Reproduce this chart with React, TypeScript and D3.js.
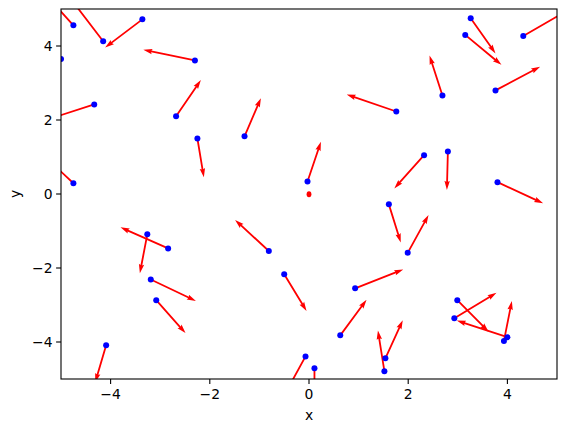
import React from "react";
import * as d3 from "d3";

const xs = [-4.75, -4.15, -3.36, -5.0, -2.3, -4.33, -2.68, -2.25, -1.3, 1.76, 3.26, 3.15, 4.32, 2.69, 3.76, -4.75, -0.03, 2.32, 2.8, 3.8, 1.61, 1.99, -3.26, -2.84, -0.81, -0.5, -3.19, -3.08, 0.93, -4.09, 0.63, -0.07, 0.11, 1.54, 1.52, 2.99, 2.93, 4.0, 3.93];
const ys = [4.56, 4.13, 4.72, 3.65, 3.61, 2.42, 2.1, 1.5, 1.56, 2.23, 4.75, 4.3, 4.27, 2.66, 2.8, 0.29, 0.34, 1.05, 1.15, 0.32, -0.28, -1.59, -1.09, -1.47, -1.54, -2.17, -2.31, -2.87, -2.55, -4.09, -3.82, -4.39, -4.71, -4.44, -4.79, -2.87, -3.36, -3.87, -3.97];
const us = [-0.5, -0.64, -0.75, -0.9, -1.04, -1.0, 0.5, 0.13, 0.33, -1.0, 0.5, 0.73, 0.94, -0.26, 0.9, -0.62, 0.27, -0.6, -0.02, 0.92, 0.24, 0.42, -0.15, -0.96, -0.68, 0.45, 0.91, 0.59, 0.97, -0.22, 0.53, -0.38, 0.0, 0.35, -0.13, 0.63, 0.85, -1.02, 0.16];
const vs = [0.74, 1.12, -0.76, -0.35, 0.29, -0.43, 0.98, -1.05, 1.03, 0.46, -0.95, -0.81, 0.73, 1.08, 0.64, 0.78, 1.07, -0.9, -1.04, -0.57, -1.03, 1.02, -1.05, 0.57, 0.84, -0.99, -0.58, -0.89, 0.51, -1.0, 0.96, -0.93, -1.0, 1.03, 1.1, -0.85, 0.69, 0.45, 1.08];
// near-zero vector drawn as a small blob
const stubX = [0.0];
const stubY = [-0.01];
const ticks = [-4, -2, 0, 2, 4];

const W = 565, H = 432;
const L = 61, R = 557, T = 9, B = 379;

function arrowPath(x0: number, y0: number, x1: number, y1: number, w: number) {
  const dx = x1 - x0, dy = y1 - y0;
  const len = Math.hypot(dx, dy);
  const ca = dx / len, sa = dy / len;
  const pts: [number, number][] = [
    [0, -w / 2], [len - 4.5 * w, -w / 2], [len - 5 * w, -1.5 * w], [len, 0],
    [len - 5 * w, 1.5 * w], [len - 4.5 * w, w / 2], [0, w / 2],
  ];
  return "M" + pts.map(([a, b]) => `${x0 + a * ca - b * sa},${y0 + a * sa + b * ca}`).join("L") + "Z";
}

export default function App() {
  const x = d3.scaleLinear().domain([-5, 5]).range([L, R]);
  const y = d3.scaleLinear().domain([-5, 5]).range([B, T]);
  const fmt = (t: number) => (t < 0 ? "\u2212" + Math.abs(t) : String(t));
  const font = "DejaVu Sans, sans-serif";
  return (
    <svg width={W} height={H} style={{ position: "absolute", left: 0, top: 0, background: "#fff" }}>
      <defs>
        <clipPath id="plot">
          <rect x={L} y={T} width={R - L} height={B - T} />
        </clipPath>
      </defs>
      <g clipPath="url(#plot)">
        {xs.map((xv, i) => (
          <path key={"a" + i} d={arrowPath(x(xv), y(ys[i]), x(xv + us[i]), y(ys[i] + vs[i]), 1.8)} fill="#ff0000" />
        ))}
        {stubX.map((sx, i) => (
          <ellipse key={"s" + i} cx={x(sx)} cy={y(stubY[i])} rx={2.4} ry={3.0} fill="#ff0000" />
        ))}
        {xs.map((xv, i) => (
          <circle key={"p" + i} cx={x(xv)} cy={y(ys[i])} r={3.0} fill="#0000ff" />
        ))}
      </g>
      <rect x={L} y={T} width={R - L} height={B - T} fill="none" stroke="#000" strokeWidth={1.1} />
      {ticks.map((t) => (
        <g key={"xt" + t}>
          <line x1={x(t)} x2={x(t)} y1={B} y2={B + 4.9} stroke="#000" strokeWidth={1.1} />
          <text x={x(t)} y={B + 20} textAnchor="middle" fontFamily={font} fontSize={13.9} fill="#000">{fmt(t)}</text>
        </g>
      ))}
      {ticks.map((t) => (
        <g key={"yt" + t}>
          <line x1={L - 4.9} x2={L} y1={y(t)} y2={y(t)} stroke="#000" strokeWidth={1.1} />
          <text x={L - 8.5} y={y(t)} dy="0.35em" textAnchor="end" fontFamily={font} fontSize={13.9} fill="#000">{fmt(t)}</text>
        </g>
      ))}
      <text x={(L + R) / 2} y={420} textAnchor="middle" fontFamily={font} fontSize={13.9} fill="#000">x</text>
      <text transform={`translate(20,${(T + B) / 2}) rotate(-90)`} textAnchor="middle" fontFamily={font} fontSize={13.9} fill="#000">y</text>
    </svg>
  );
}
